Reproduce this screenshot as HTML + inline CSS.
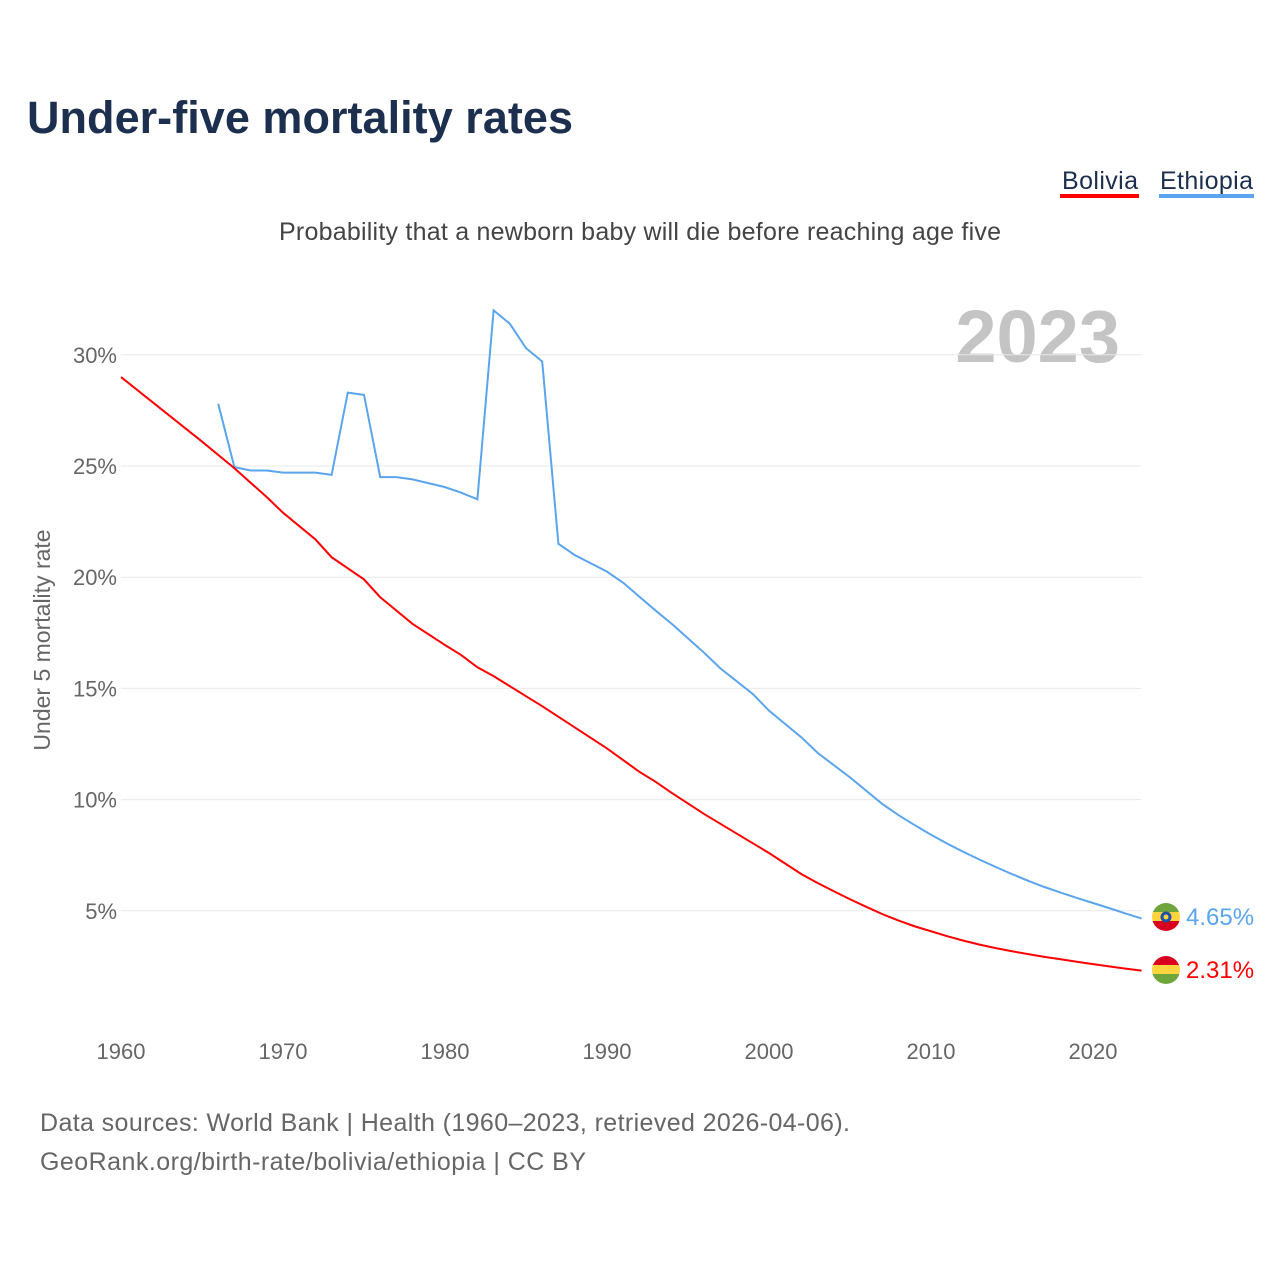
<!DOCTYPE html>
<html><head><meta charset="utf-8"><style>
body{margin:0;background:#fff;font-family:"Liberation Sans",sans-serif}
</style></head><body>
<svg width="1280" height="1280" xmlns="http://www.w3.org/2000/svg" style="font-family:'Liberation Sans',sans-serif">
<text x="27" y="133" font-size="45" font-weight="bold" fill="#1c2f4f" textLength="546">Under-five mortality rates</text>
<g><text x="1062" y="189" font-size="25" fill="#1c2f4f" textLength="76">Bolivia</text><rect x="1060" y="194" width="79" height="4" fill="#ff0000"/></g>
<g><text x="1160" y="189" font-size="25" fill="#1c2f4f" textLength="93">Ethiopia</text><rect x="1159" y="194" width="95" height="4" fill="#5aa5ee"/></g>
<text x="640" y="240" font-size="25" fill="#444" text-anchor="middle" textLength="722">Probability that a newborn baby will die before reaching age five</text>
<text x="1120" y="362" font-size="74" font-weight="bold" fill="#c4c4c4" text-anchor="end">2023</text>
<text transform="translate(50,640) rotate(-90)" font-size="23" fill="#666" text-anchor="middle">Under 5 mortality rate</text>
<g id="grid"></g><g id="xt"></g><g id="lines"></g>
<g><clipPath id="ce"><circle cx="1166" cy="917" r="14"/></clipPath><g clip-path="url(#ce)"><rect x="1152" y="903" width="28" height="10" fill="#6ea63c"/><rect x="1152" y="912" width="28" height="10" fill="#fcd440"/><rect x="1152" y="921" width="28" height="10" fill="#d8001f"/><circle cx="1166" cy="917" r="5.5" fill="#1f4fa8"/><circle cx="1166" cy="917" r="2.5" fill="#fcd440"/></g></g>
<g><clipPath id="cb"><circle cx="1166" cy="970" r="14"/></clipPath><g clip-path="url(#cb)"><rect x="1152" y="956" width="28" height="10" fill="#d8001f"/><rect x="1152" y="965" width="28" height="10" fill="#fcd440"/><rect x="1152" y="974" width="28" height="10" fill="#6ea63c"/></g></g>
<text x="1186" y="925" font-size="24" fill="#5aa5ee">4.65%</text>
<text x="1186" y="978" font-size="24" fill="#ff0000">2.31%</text>
<text x="40" y="1131" font-size="25" fill="#666" textLength="810">Data sources: World Bank | Health (1960–2023, retrieved 2026-04-06).</text>
<text x="40" y="1170" font-size="25" fill="#666" textLength="546">GeoRank.org/birth-rate/bolivia/ethiopia | CC BY</text>
</svg>
<script>
const yTicks=[5,10,15,20,25,30];
const xTicks=[1960,1970,1980,1990,2000,2010,2020];
const boliviaYears=[1960,1965,1967,1969,1970,1972,1973,1975,1976,1978,1980,1981,1982,1983,1985,1986,1990,1992,1993,1994,1996,2000,2002,2003,2004,2005,2006,2007,2008,2009,2010,2011,2012,2013,2014,2015,2016,2017,2018,2019,2020,2021,2022,2023];
const boliviaValues=[29.0,26.1,24.9,23.6,22.9,21.7,20.9,19.9,19.1,17.9,16.95,16.5,15.95,15.55,14.65,14.2,12.3,11.25,10.8,10.3,9.35,7.6,6.65,6.25,5.88,5.52,5.18,4.85,4.56,4.3,4.08,3.86,3.66,3.48,3.32,3.18,3.05,2.93,2.82,2.71,2.6,2.5,2.4,2.31];
const ethiopiaYears=[1966,1967,1968,1969,1970,1972,1973,1974,1975,1976,1977,1978,1980,1981,1982,1983,1984,1985,1986,1987,1988,1990,1991,1993,1994,1995,1996,1997,1999,2000,2002,2003,2005,2007,2008,2009,2010,2011,2012,2013,2014,2015,2016,2017,2018,2019,2020,2021,2022,2023];
const ethiopiaValues=[27.8,24.95,24.8,24.8,24.7,24.7,24.6,28.3,28.2,24.5,24.5,24.4,24.05,23.8,23.5,32.0,31.4,30.3,29.7,21.5,21.0,20.25,19.75,18.5,17.9,17.25,16.6,15.9,14.75,14.0,12.8,12.1,11.0,9.8,9.3,8.85,8.42,8.02,7.65,7.3,6.97,6.65,6.35,6.07,5.82,5.58,5.35,5.12,4.88,4.65];
const NS="http://www.w3.org/2000/svg";
const X=y=>121+(y-1960)*16.2;
const Y=v=>1022-v*22.24;
const grid=document.getElementById('grid');
yTicks.forEach(t=>{
 const l=document.createElementNS(NS,'line');
 l.setAttribute('x1',121);l.setAttribute('x2',1141);l.setAttribute('y1',Y(t));l.setAttribute('y2',Y(t));
 l.setAttribute('stroke','#e8e8e8');l.setAttribute('stroke-width','1');
 
 
 grid.appendChild(l);
 const tx=document.createElementNS(NS,'text');
 tx.setAttribute('x',117);tx.setAttribute('y',Y(t)+8);tx.setAttribute('text-anchor','end');
 tx.setAttribute('font-size','22');tx.setAttribute('fill','#666');tx.textContent=t+'%';
 
 
 grid.appendChild(tx);
});
const xt=document.getElementById('xt');
xTicks.forEach(t=>{
 const tx=document.createElementNS(NS,'text');
 tx.setAttribute('x',X(t));tx.setAttribute('y',1059);tx.setAttribute('text-anchor','middle');
 tx.setAttribute('font-size','22');tx.setAttribute('fill','#666');tx.textContent=t;
 
 
 xt.appendChild(tx);
});
const lines=document.getElementById('lines');
function draw(ys,vs,c,name){
 const p=document.createElementNS(NS,'polyline');
 p.setAttribute('points',ys.map((y,i)=>X(y)+','+Y(vs[i])).join(' '));
 p.setAttribute('fill','none');p.setAttribute('stroke',c);p.setAttribute('stroke-width','2');
 
 
 lines.appendChild(p);
}
draw(ethiopiaYears,ethiopiaValues,'#5aa5ee','ethiopia-line');
draw(boliviaYears,boliviaValues,'#ff0000','bolivia-line');
</script>
</body></html>
